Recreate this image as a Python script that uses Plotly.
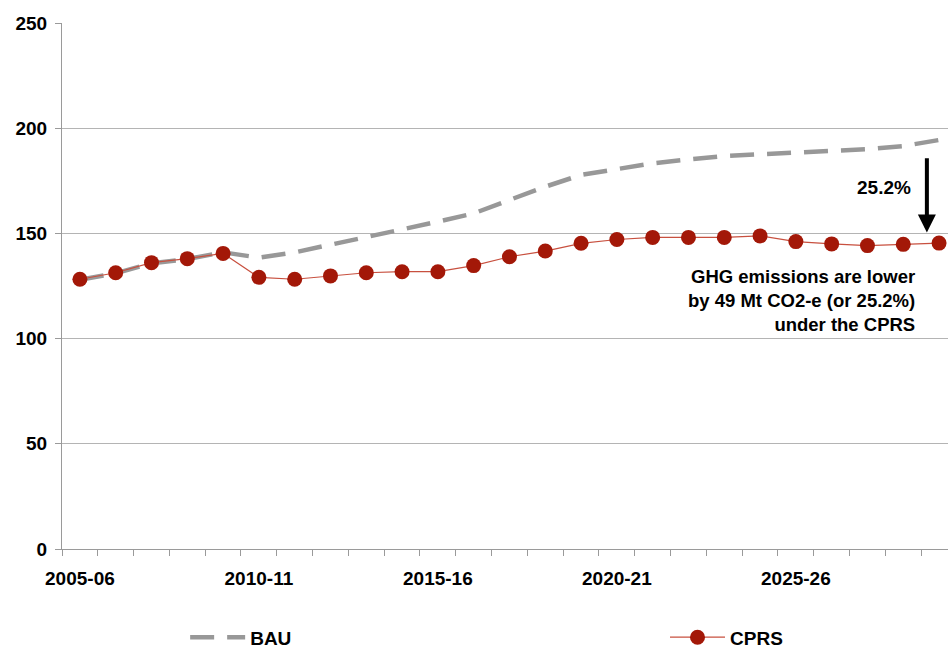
import plotly.graph_objects as go

# Financial years shown on the category axis
years = [f"{y}-{str(y + 1)[-2:]}" for y in range(2005, 2030)]

# Greenhouse gas emissions, Mt CO2-e
bau = [128.0, 131.0, 135.8, 137.8, 141.0, 138.5, 141.0, 144.5, 148.1, 151.9,
       155.6, 159.5, 165.9, 172.2, 177.8, 180.4, 183.3, 185.2, 186.8, 187.6,
       188.4, 189.2, 190.0, 191.5, 194.4]
cprs = [128.2, 131.3, 136.1, 138.0, 140.5, 129.1, 128.2, 129.8, 131.3, 131.8,
        131.8, 134.7, 138.9, 141.6, 145.3, 147.1, 148.1, 148.1, 148.1, 148.8,
        146.1, 145.0, 144.2, 144.8, 145.4]

label_years = years[::5]

idx = list(range(len(years)))
label_pos = [years.index(y) for y in label_years]
boundaries = [i - 0.5 for i in range(len(years) + 1)]

FAMILY = "Liberation Sans, Arial, sans-serif"
font_main = dict(family=FAMILY, size=19, color="#000000", weight="bold")

fig = go.Figure()

fig.add_trace(go.Scatter(
    x=idx, y=bau, name="BAU", mode="lines", legend="legend",
    line=dict(color="#989898", width=4.5, dash="24px,13px"),
    hoverinfo="skip",
))

fig.add_trace(go.Scatter(
    x=idx, y=cprs, name="CPRS", mode="lines+markers", legend="legend2",
    line=dict(color="#C8503F", width=1.2),
    marker=dict(symbol="circle", size=15, color="#A31808",
                line=dict(color="#A31808", width=0)),
    hoverinfo="skip",
))

# Gap between the two scenarios in the final year
fig.add_annotation(
    x=23.66, y=cprs[-1] + 5, ax=23.66, ay=bau[-1] - 8,
    xref="x", yref="y", axref="x", ayref="y",
    showarrow=True, arrowhead=2, arrowwidth=4, arrowsize=0.9,
    arrowcolor="#000000", text="",
)
gap_pct = (bau[-1] - cprs[-1]) / bau[-1] * 100
fig.add_annotation(
    x=0.9605, y=0.688, xref="paper", yref="paper",
    xanchor="right", yanchor="middle", showarrow=False,
    text=f"{gap_pct:.1f}%", font=font_main,
)
fig.add_annotation(
    x=0.965, y=0.472, xref="paper", yref="paper",
    xanchor="right", yanchor="middle", align="right", showarrow=False,
    text=(f"GHG emissions are lower<br>by {bau[-1] - cprs[-1]:.0f} Mt CO2-e "
          f"(or {gap_pct:.1f}%)<br>under the CPRS"),
    font=dict(family=FAMILY, size=18.5, color="#000000", weight="bold"),
)

fig.update_xaxes(
    range=[-0.5, 24.25],
    tickmode="array", tickvals=label_pos, ticktext=label_years,
    ticks="", ticklabelstandoff=12,
    tickfont=font_main,
    showgrid=False, zeroline=False,
    showline=True, linecolor="#9a9a9a", linewidth=1,
    minor=dict(tickmode="array", tickvals=boundaries, ticks="outside",
               ticklen=6, tickcolor="#9a9a9a", tickwidth=1, showgrid=False),
)
fig.update_yaxes(
    range=[0, 250], tickmode="linear", tick0=0, dtick=50,
    ticks="outside", ticklen=6, tickcolor="#9a9a9a",
    ticklabelstandoff=4, tickfont=font_main,
    showgrid=True, gridcolor="#b4b4b4", gridwidth=1,
    zeroline=False, showline=True, linecolor="#9a9a9a", linewidth=1,
)

legend_style = dict(
    orientation="h", yanchor="middle", xanchor="left",
    font=dict(family=FAMILY, size=19, color="#000000", weight="bold"),
    itemwidth=55, bgcolor="rgba(0,0,0,0)",
)

fig.update_layout(
    width=948, height=652,
    margin=dict(l=62, r=0, t=23, b=103, autoexpand=False),
    paper_bgcolor="#ffffff", plot_bgcolor="#ffffff",
    showlegend=True,
    legend=dict(x=0.139, y=-0.168, **legend_style),
    legend2=dict(x=0.6806, y=-0.168, **legend_style),
)

fig.write_html("out.html")
